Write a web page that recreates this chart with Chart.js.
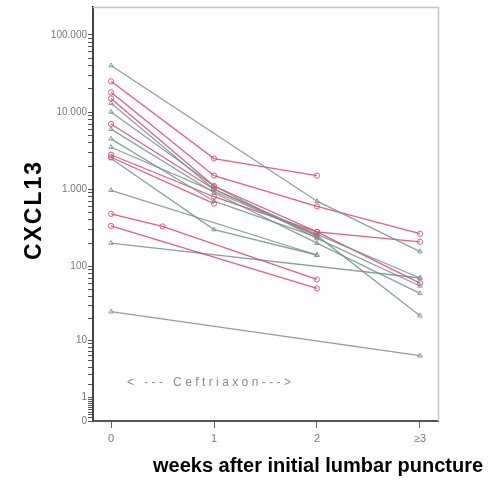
<!DOCTYPE html>
<html>
<head>
<meta charset="utf-8">
<script src="https://cdn.jsdelivr.net/npm/chart.js@4.4.1/dist/chart.umd.min.js"></script>
<style>
  html, body { margin: 0; padding: 0; background: #fff; }
  #wrap { width: 498px; height: 485px; position: relative; }
</style>
</head>
<body>
<div id="wrap"><canvas id="c" width="498" height="485"></canvas></div>
<script>
// CXCL13 in CSF per patient over the weeks after the initial lumbar puncture
const patientWeeks = [
  [0, 2, 3],
  [0, 1, 2],
  [0, 1, 2, 3],
  [0, 1, 2, 3],
  [0, 1, 2, 3],
  [0, 1, 2, 3],
  [0, 1, 2, 3],
  [0, 2, 3],
  [0, 1, 2],
  [0, 1, 2],
  [0, 1, 2, 3],
  [0, 1, 2],
  [0, 1],
  [0, 2],
  [0, 0.5, 2],
  [0, 2],
  [0, 3],
  [0, 3]
];
const patientCxcl13 = [
  [40000, 700, 155],
  [25000, 2500, 1500],
  [18000, 1500, 600, 265],
  [15000, 1100, 280, 208],
  [13000, 1000, 260, 70],
  [10000, 1100, 230, 55],
  [6000, 900, 200, 44],
  [3500, 250, 22],
  [7000, 1000, 250],
  [4500, 700, 240],
  [2800, 800, 280, 60],
  [2500, 300, 140],
  [2600, 650],
  [970, 140],
  [480, 330, 67],
  [335, 51],
  [200, 70],
  [25, 6]
];
const patientGroup = [
  'g', 'p', 'p', 'p', 'g', 'g', 'g', 'g', 'p', 'g', 'p', 'g', 'p', 'g', 'p', 'p', 'g', 'g'
];

// y axis: log10(value + 1)
const yTickValues = [0, 1, 10, 100, 1000, 10000, 100000];
const yTickLabels = ['0', '1', '10', '100', '1.000', '10.000', '100.000'];
const xTickValues = [0, 1, 2, 3];
const xTickLabels = ['0', '1', '2', '\u22653'];

const groupColor = { g: 'rgba(120,145,135,0.85)', p: 'rgba(225,65,115,0.85)' };
const toY = v => Math.log10(v + 1);

const datasets = patientCxcl13.map((vals, i) => ({
  data: vals.map((v, j) => ({ x: patientWeeks[i][j], y: toY(v) })),
  borderColor: groupColor[patientGroup[i]],
  backgroundColor: 'rgba(255,255,255,0)',
  borderWidth: 1.3,
  pointRadius: 2.6,
  pointBorderWidth: 1,
  pointStyle: patientGroup[i] === 'p' ? 'circle' : 'triangle',
  showLine: true,
  tension: 0
}));

// minor y ticks at 2..9 per decade plus the 0..1 range
const yTicks = [];
yTickValues.forEach(v => yTicks.push({ value: toY(v), major: true }));
for (let k = 1; k <= 9; k++) yTicks.push({ value: toY(k / 10), major: false });
for (let d = 1; d <= 10000; d *= 10) {
  for (let k = 2; k <= 9; k++) yTicks.push({ value: toY(k * d), major: false });
}
yTicks.sort((a, b) => a.value - b.value);

const frame = {
  id: 'frame',
  beforeDatasetsDraw(chart) {
    const { ctx, chartArea: a } = chart;
    ctx.save();
    ctx.strokeStyle = '#c4c4c4';
    ctx.lineWidth = 1.5;
    ctx.beginPath();
    ctx.moveTo(a.left, a.top + 0.5);
    ctx.lineTo(a.right + 0.5, a.top + 0.5);
    ctx.lineTo(a.right + 0.5, a.bottom);
    ctx.stroke();
    // treatment period annotation
    ctx.fillStyle = '#8a8a8a';
    ctx.font = '12px "Liberation Sans", Arial, sans-serif';
    ctx.letterSpacing = '3.4px';
    ctx.textBaseline = 'middle';
    ctx.fillText('< --- Ceftriaxon--->', 127, 383);
    ctx.restore();
  },
  afterDraw(chart) {
    const { ctx } = chart;
    ctx.save();
    ctx.fillStyle = '#000';
    ctx.font = 'bold 20px "Liberation Sans", Arial, sans-serif';
    ctx.textAlign = 'center';
    ctx.textBaseline = 'middle';
    ctx.fillText('weeks after initial lumbar puncture', 318, 466);
    ctx.translate(35, 210);
    ctx.rotate(-Math.PI / 2);
    ctx.font = 'bold 23px "Liberation Sans", Arial, sans-serif';
    ctx.letterSpacing = '2px';
    ctx.fillText('CXCL13', 0, 0);
    ctx.restore();
  }
};

new Chart(document.getElementById('c'), {
  type: 'scatter',
  data: { datasets },
  plugins: [frame],
  options: {
    responsive: false,
    animation: false,
    events: [],
    layout: { padding: { top: 3, right: 60, left: 0, bottom: 0 } },
    plugins: { legend: { display: false }, tooltip: { enabled: false } },
    scales: {
      x: {
        type: 'linear',
        min: -0.175,
        max: 3.175,
        afterBuildTicks(scale) { scale.ticks = xTickValues.map(v => ({ value: v })); },
        afterFit(scale) { scale.height = 64; },
        ticks: {
          autoSkip: false,
          maxRotation: 0,
          color: '#777',
          font: { size: 11, family: '"Liberation Sans", Arial, sans-serif' },
          padding: 4,
          callback: (v, i) => xTickLabels[i]
        },
        grid: { drawOnChartArea: false, tickLength: 7, color: '#666', tickWidth: 1 },
        border: { color: '#555', width: 2 }
      },
      y: {
        type: 'linear',
        min: 0,
        max: 5.36,
        afterBuildTicks(scale) { scale.ticks = yTicks.map(t => ({ value: t.value, major: t.major })); },
        afterFit(scale) { scale.width = 93; },
        ticks: {
          autoSkip: false,
          color: '#777',
          font: { size: 10, family: '"Liberation Sans", Arial, sans-serif' },
          padding: 1,
          callback: (v, i) => {
            const t = yTicks[i];
            if (!t || !t.major) return '';
            return yTickLabels[yTickValues.findIndex(x => Math.abs(toY(x) - t.value) < 1e-9)];
          }
        },
        grid: { drawOnChartArea: false, tickLength: 5, color: '#555', tickWidth: 1 },
        border: { color: '#444', width: 2 }
      }
    }
  }
});
</script>
</body>
</html>
